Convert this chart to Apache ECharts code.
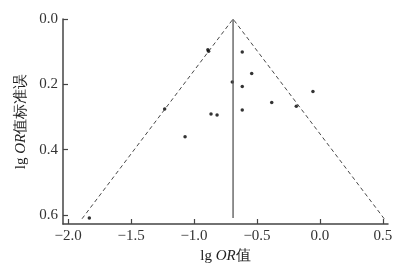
<!DOCTYPE html>
<html><head><meta charset="utf-8">
<script src="https://cdn.jsdelivr.net/npm/echarts@6/dist/echarts.min.js"></script>
<style>html,body{margin:0;padding:0;background:#fff}#c{width:418px;height:273px}</style>
</head><body><div id="c"></div>
<script>
// Study points: lg OR and its standard error
const lgOR = [-0.89, -0.884, -0.617, -0.542, -0.696, -0.617, -0.056, -0.383, -0.188, -0.617, -1.233, -0.865, -0.817, -1.071, -1.831];
const seLgOR = [0.094, 0.099, 0.101, 0.167, 0.193, 0.207, 0.222, 0.256, 0.267, 0.279, 0.276, 0.291, 0.294, 0.361, 0.610];
// Pooled estimate and funnel limits
const pooled = -0.69;
const funnelSE = [0.612, 0, 0.612];
const funnelX = [-1.889, -0.69, 0.51];
const xTicks = [-2.0, -1.5, -1.0, -0.5, 0.0, 0.5];
const yTicks = [0.0, 0.2, 0.4, 0.6];

const fmt = v => (v < 0 ? '\u2212' : '') + Math.abs(v).toFixed(1);
const points = lgOR.map((x, i) => [x, seLgOR[i]]);
const funnel = funnelX.map((x, i) => [x, funnelSE[i]]);
const axisCol = '#444';
const font = 'Liberation Serif';

const chart = echarts.init(document.getElementById('c'));
chart.setOption({
  animation: false,
  backgroundColor: '#fff',
  grid: {left: 63, right: 30, top: 19, bottom: 49},
  xAxis: {
    type: 'value', min: -2.04, max: 0.54,
    name: '{n|lg }{i|OR}{n|值}', nameLocation: 'middle', nameGap: 24,
    nameTextStyle: {rich: {
      n: {fontFamily: font, fontSize: 15, color: '#222'},
      i: {fontFamily: font, fontSize: 15, fontStyle: 'italic', color: '#222'}
    }},
    splitLine: {show: false},
    axisLine: {onZero: false, lineStyle: {color: axisCol, width: 1.5}},
    axisTick: {inside: true, length: 5, customValues: xTicks, lineStyle: {color: axisCol, width: 1.2}},
    axisLabel: {customValues: xTicks, formatter: fmt, fontFamily: font, fontSize: 15, color: '#333', margin: 5}
  },
  yAxis: {
    type: 'value', inverse: true, min: 0, max: 0.628,
    name: '{n|lg }{i|OR}{n|值标准误}', nameLocation: 'middle', nameGap: 34, nameRotate: 90,
    nameTextStyle: {rich: {
      n: {fontFamily: font, fontSize: 15, color: '#222'},
      i: {fontFamily: font, fontSize: 15, fontStyle: 'italic', color: '#222'}
    }},
    splitLine: {show: false},
    axisLine: {show: true, onZero: false, lineStyle: {color: axisCol, width: 1.5}},
    axisTick: {show: true, inside: true, length: 5, customValues: yTicks, lineStyle: {color: axisCol, width: 1.2}},
    axisLabel: {customValues: yTicks, formatter: v => v.toFixed(1), fontFamily: font, fontSize: 15, color: '#333', margin: 5}
  },
  series: [
    {type: 'line', data: funnel, symbol: 'none', lineStyle: {color: '#333', width: 0.9, type: [4, 3]}, silent: true},
    {type: 'line', data: [[pooled, 0], [pooled, 0.61]], symbol: 'none', lineStyle: {color: '#555', width: 1.3}, silent: true},
    {type: 'scatter', data: points, symbol: 'circle', symbolSize: 3.5, itemStyle: {color: '#000'}}
  ]
});
</script></body></html>
